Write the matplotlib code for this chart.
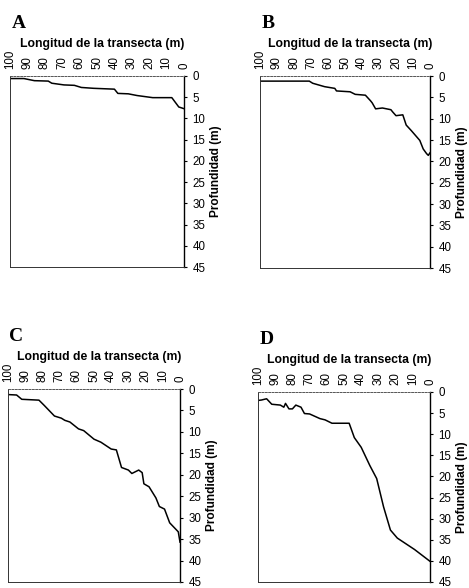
import matplotlib.pyplot as plt
import numpy as np

plt.rcParams['font.family'] = ['Liberation Sans', 'DejaVu Sans']

# --- perfiles de profundidad (longitud m, profundidad m) ---
dist_a = [100, 92, 86, 78, 76, 69, 63, 59, 52, 40, 38, 32, 27, 18, 7, 5, 3, 0]
prof_a = [0.6, 0.6, 1.1, 1.2, 1.7, 2.1, 2.2, 2.7, 2.9, 3.1, 4.1, 4.2, 4.6, 5.1, 5.1, 6.2, 7.3, 7.7]

dist_b = [100, 71, 69, 62, 56, 55, 47, 44, 38, 35, 34, 32, 28, 23, 22, 20, 16, 14, 11, 6, 4, 2, 1, 0]
prof_b = [1.2, 1.2, 1.7, 2.5, 2.9, 3.5, 3.7, 4.3, 4.5, 5.8, 6.3, 7.7, 7.5, 7.9, 8.4, 9.3, 9.1, 11.5,
          12.8, 15.1, 17.1, 18.2, 18.6, 18.0]

dist_c = [100, 95, 92, 82, 79, 73, 69, 67, 64, 59, 56, 50, 46, 40, 37, 34, 30, 28, 24, 22, 21, 18,
          14, 12, 9, 6, 1, 0]
prof_c = [1.3, 1.4, 2.4, 2.6, 3.8, 6.3, 6.8, 7.3, 7.7, 9.3, 9.7, 11.7, 12.4, 14.0, 14.2, 18.3, 18.9,
          19.7, 18.9, 19.5, 22.1, 22.8, 25.4, 27.4, 28.0, 31.2, 33.3, 35.7]

dist_d = [100, 98, 95, 92, 87, 85, 84, 82, 80, 78, 75, 73, 70, 64, 61, 57, 47, 44, 40, 35, 31, 27,
          23, 19, 9, 0]
prof_d = [2.0, 1.9, 1.6, 2.9, 3.1, 3.6, 2.7, 4.0, 4.0, 3.1, 3.6, 5.1, 5.2, 6.3, 6.6, 7.4, 7.4, 10.8,
          13.1, 17.4, 20.5, 27.2, 32.7, 34.6, 37.3, 40.1]

x_ticks = [100, 90, 80, 70, 60, 50, 40, 30, 20, 10, 0]
y_ticks = [0, 5, 10, 15, 20, 25, 30, 35, 40, 45]

paneles = [
    ('A', dist_a, prof_a, [10/469, 1-267/588, 174/469, 191/588]),
    ('B', dist_b, prof_b, [260/469, 1-268/588, 170/469, 192/588]),
    ('C', dist_c, prof_c, [8/469, 1-582/588, 172/469, 193/588]),
    ('D', dist_d, prof_d, [258/469, 1-582/588, 172/469, 190/588]),
]

fig = plt.figure(figsize=(4.69, 5.88), dpi=100)

for letra, dist, prof, pos in paneles:
    ax = fig.add_axes(pos)
    ax.plot(dist, prof, color='black', lw=1.1)
    ax.set_xlim(100, 0)
    ax.set_ylim(45, 0)
    ax.set_xticks(x_ticks)
    ax.set_yticks(y_ticks)
    ax.xaxis.tick_top()
    ax.yaxis.tick_right()
    ax.tick_params(axis='x', length=0, pad=5, labelsize=8.3, labelrotation=90)
    ax.tick_params(axis='y', length=2, pad=4, labelsize=8.3)
    ax.yaxis.set_label_position('right')
    ax.set_ylabel('Profundidad (m)', fontsize=8.6, fontweight='bold', labelpad=3)

    for s in ['left', 'bottom']:
        ax.spines[s].set_linewidth(0.7)
        ax.spines[s].set_color('#333333')
    ax.spines['top'].set_linestyle((0, (2, 1.5)))
    ax.spines['top'].set_linewidth(0.7)
    ax.spines['top'].set_color('#555555')
    ax.spines['right'].set_linewidth(1.0)

    ax.annotate('Longitud de la transecta (m)', xy=(0.53, 1), xycoords='axes fraction',
                xytext=(0, 23), textcoords='offset points', ha='center', va='center',
                fontsize=8.8, fontweight='bold')
    ax.annotate(letra, xy=(0, 1), xycoords='axes fraction', xytext=(1, 38),
                textcoords='offset points', ha='left', va='center',
                fontsize=14, fontweight='bold', family='Liberation Serif')

fig.savefig('out.png', dpi=100)
